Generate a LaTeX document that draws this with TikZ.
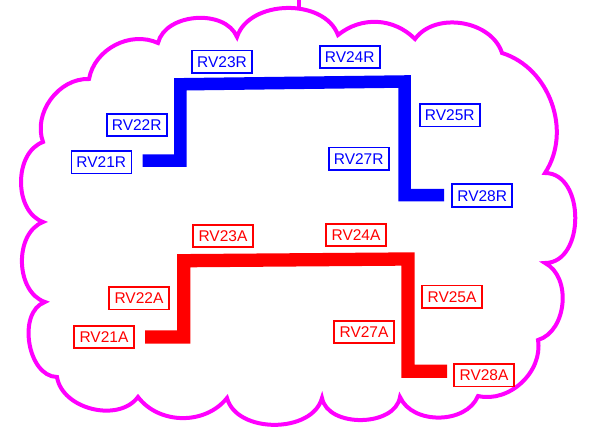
\documentclass[tikz,border=0pt]{standalone}
\usepackage{fontspec}
\setmainfont{Liberation Sans}
\definecolor{cloudmag}{RGB}{255,0,255}
\definecolor{rblue}{RGB}{0,0,255}
\definecolor{ared}{RGB}{255,0,0}
\begin{document}
\begin{tikzpicture}[x=1pt,y=-1pt,
  lbl/.style={draw, line width=1.6pt, font=\fontsize{15.5}{18}\selectfont,
    minimum width=60pt, minimum height=22.5pt, inner sep=0pt,
    text height=11.1pt, text depth=0pt},
  rlbl/.style={lbl, draw=rblue, text=rblue},
  albl/.style={lbl, draw=ared, text=ared},
  rpath/.style={draw=rblue, line width=12.5pt, line join=miter},
  apath/.style={draw=ared, line width=13.3pt, line join=miter},
  cloudline/.style={draw=cloudmag, line width=4pt, line join=miter}
]
\useasboundingbox (0,0) rectangle (599,433);

% cloud cusps
\coordinate (c1) at (237,37);
\coordinate (c2) at (338,35);
\coordinate (c3) at (415,39);
\coordinate (c4) at (502,53);
\coordinate (c5) at (545,173);
\coordinate (c6) at (545,263);
\coordinate (c7) at (538,340);
\coordinate (c8) at (478,396);
\coordinate (c9) at (400,397);
\coordinate (c10) at (322,398);
\coordinate (c11) at (227,398);
\coordinate (c12) at (138,397);
\coordinate (c13) at (57,377);
\coordinate (c14) at (45,302);
\coordinate (c15) at (43,222);
\coordinate (c16) at (43,142);
\coordinate (c17) at (89,79);
\coordinate (c18) at (158,43);
\coordinate (ticka) at (299,0);
\coordinate (tickb) at (299,9);

\draw[cloudline] (c1) to[bend left=71] (c2) to[bend left=42] (c3)
  to[bend left=63] (c4) to[bend left=53] (c5)
  to[bend left=90, looseness=1.15] (c6) to[bend left=68] (c7)
  to[bend left=56] (c8) to[bend left=67] (c9) to[bend left=80] (c10)
  to[bend left=75] (c11) to[bend left=52] (c12) to[bend left=67] (c13)
  to[bend left=80] (c14) to[bend left=70] (c15) to[bend left=70] (c16)
  to[bend left=56] (c17) to[bend left=52] (c18) to[bend left=72] cycle;
\draw[cloudline] (ticka) -- (tickb);

% blue route
\coordinate (b1) at (142.7,160.5);
\coordinate (b2) at (180.3,160.5);
\coordinate (b3) at (180.3,84.3);
\coordinate (b4) at (404.5,81.5);
\coordinate (b5) at (404.5,195);
\coordinate (b6) at (444,195);
\draw[rpath] (b1) -- (b2) -- (b3) -- (b4) -- (b5) -- (b6);

% red route
\coordinate (a1) at (145,337);
\coordinate (a2) at (183.7,337);
\coordinate (a3) at (183.7,260.7);
\coordinate (a4) at (408,259);
\coordinate (a5) at (408,371.3);
\coordinate (a6) at (447,371.3);
\draw[apath] (a1) -- (a2) -- (a3) -- (a4) -- (a5) -- (a6);

% blue labels
\node[rlbl] (rv21r) at (101.3,162.3) {RV21R};
\node[rlbl] (rv22r) at (136.7,125) {RV22R};
\node[rlbl] (rv23r) at (222,61.7) {RV23R};
\node[rlbl] (rv24r) at (349.7,57) {RV24R};
\node[rlbl] (rv25r) at (449.8,115.3) {RV25R};
\node[rlbl] (rv27r) at (358.7,158.8) {RV27R};
\node[rlbl] (rv28r) at (482.2,195.5) {RV28R};

% red labels
\node[albl] (rv21a) at (104,337) {RV21A};
\node[albl] (rv22a) at (139,298.3) {RV22A};
\node[albl] (rv23a) at (223,236) {RV23A};
\node[albl] (rv24a) at (356,235) {RV24A};
\node[albl] (rv25a) at (452,296.7) {RV25A};
\node[albl] (rv27a) at (364,332) {RV27A};
\node[albl] (rv28a) at (484,375.3) {RV28A};
\end{tikzpicture}
\end{document}
